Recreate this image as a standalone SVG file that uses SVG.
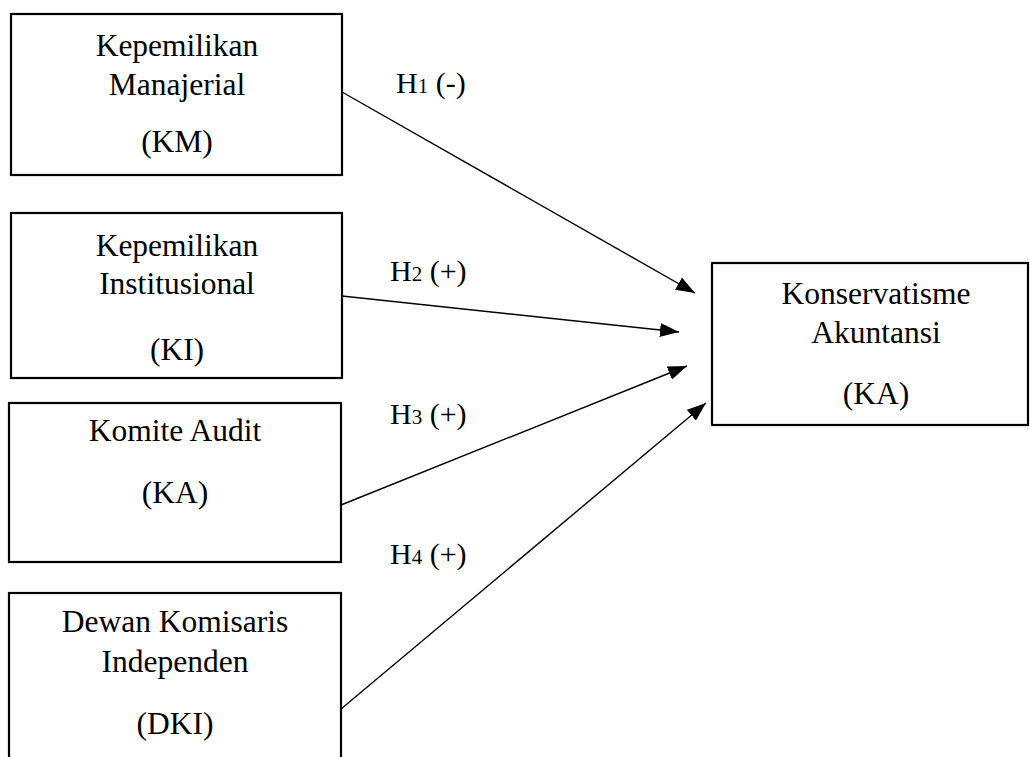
<svg xmlns="http://www.w3.org/2000/svg" width="1030" height="757" viewBox="0 0 1030 757">
<style>
.box{fill:#fff;stroke:#000;stroke-width:2.2}
.t{font-family:"Liberation Serif","Times New Roman",serif;font-size:31.5px;fill:#000;text-anchor:middle}
.h{font-family:"Liberation Serif","Times New Roman",serif;font-size:30px;fill:#000}
.sub{font-size:21px}
.c{stroke:#000;stroke-width:1.4;fill:none;marker-end:url(#ah)}
</style>
<defs>
<marker id="ah" markerUnits="userSpaceOnUse" markerWidth="20" markerHeight="14" refX="19" refY="7" orient="auto">
<path d="M0,0 L19,7 L0,14 z" fill="#000"/>
</marker>
</defs>
<g id="connectors">
<line class="c" x1="342" y1="92" x2="695" y2="293"/>
<line class="c" x1="342" y1="296" x2="679" y2="332"/>
<line class="c" x1="341" y1="505" x2="687" y2="366"/>
<line class="c" x1="341" y1="709" x2="706" y2="403"/>
</g>
<g id="labels">
<text class="h" x="396" y="93">H<tspan class="sub">1</tspan> (-)</text>
<text class="h" x="390" y="281">H<tspan class="sub">2</tspan> (+)</text>
<text class="h" x="390" y="424">H<tspan class="sub">3</tspan> (+)</text>
<text class="h" x="390" y="564">H<tspan class="sub">4</tspan> (+)</text>
</g>
<g id="km">
<rect class="box" x="11" y="14" width="331" height="161"/>
<text class="t" x="177" y="56">Kepemilikan</text>
<text class="t" x="177" y="95">Manajerial</text>
<text class="t" x="177" y="152">(KM)</text>
</g>
<g id="ki">
<rect class="box" x="11" y="213" width="331" height="165"/>
<text class="t" x="177" y="256">Kepemilikan</text>
<text class="t" x="177" y="294">Institusional</text>
<text class="t" x="177" y="360">(KI)</text>
</g>
<g id="ka">
<rect class="box" x="9" y="403" width="332" height="159"/>
<text class="t" x="175" y="441">Komite Audit</text>
<text class="t" x="175" y="503">(KA)</text>
</g>
<g id="dki">
<rect class="box" x="9" y="593" width="332" height="180"/>
<text class="t" x="175" y="632">Dewan Komisaris</text>
<text class="t" x="175" y="672">Independen</text>
<text class="t" x="175" y="734">(DKI)</text>
</g>
<g id="konservatisme">
<rect class="box" x="712" y="263" width="316" height="162"/>
<text class="t" x="876" y="304">Konservatisme</text>
<text class="t" x="876" y="343">Akuntansi</text>
<text class="t" x="876" y="404">(KA)</text>
</g>
</svg>
